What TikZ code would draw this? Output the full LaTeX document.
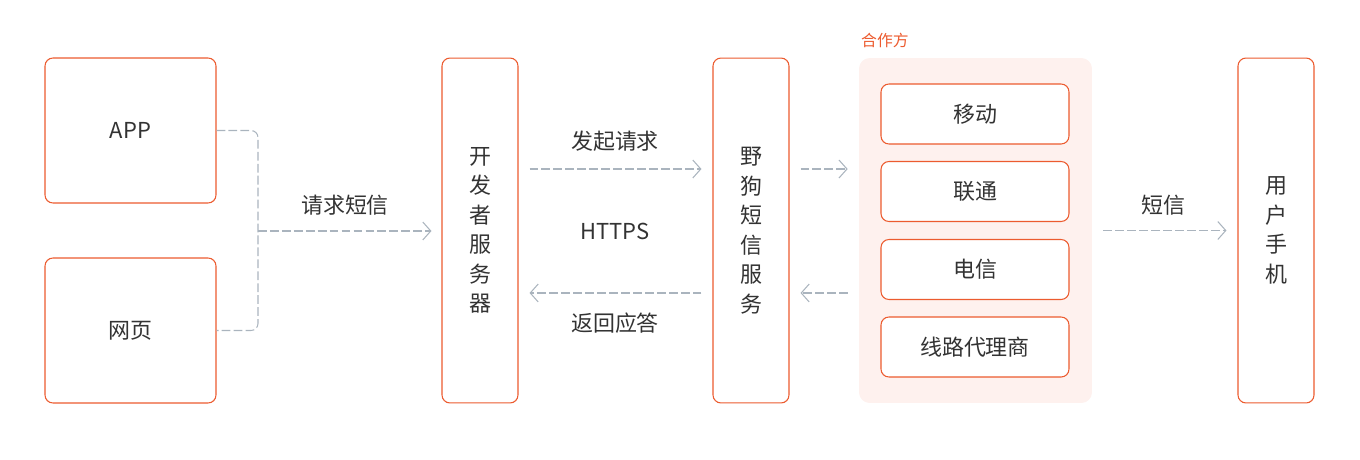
\documentclass[tikz,border=0pt]{standalone}
\usepackage{fontspec}
\setmainfont{Noto Sans CJK SC}
\usetikzlibrary{arrows.meta}
\definecolor{sorange}{HTML}{EC5B2F}
\definecolor{sgray}{HTML}{AAB4BE}
\definecolor{spink}{HTML}{FEF1EE}
\definecolor{stext}{HTML}{333333}

\tikzstyle{box}=[draw=sorange,line width=0.6pt,rounded corners=4.5pt,fill=white,text=stext,inner sep=0pt,align=center]
\tikzstyle{wide box}=[box,minimum width=3.42cm,minimum height=2.9cm]
\tikzstyle{tall box}=[box,minimum width=1.52cm,minimum height=6.9cm]
\tikzstyle{carrier}=[box,minimum width=3.76cm,minimum height=1.2cm]
\tikzstyle{edge}=[draw=sgray,line width=0.6pt,dash pattern=on 5pt off 1.8pt]
\tikzstyle{flow edge}=[edge,-{Straight Barb[length=0.16cm,width=0.36cm]},shorten <=0.22cm,shorten >=0.22cm]
\tikzstyle{tag}=[text=stext]

\begin{document}
\begin{tikzpicture}[x=0.02cm,y=-0.02cm,font=\fontsize{12.5}{16.8}\selectfont]
	\useasboundingbox (0,0) rectangle (1360,460);
			% partner area first, so the boxes sit on it
			\node[fill=spink,rounded corners=6pt,minimum width=4.66cm,minimum height=6.9cm] (partner) at (975.5,230.5) {};
			\node[anchor=west,text=sorange,font=\fontsize{9}{11}\selectfont] (ptitle) at (855,40) {合作方};
			\node[wide box] (app) at (130.5,130.5) {APP};
			\node[wide box] (web) at (130.5,330.5) {网页};
			\node[tall box] (dev) at (480,230.5) {开\\发\\者\\服\\务\\器};
			\node[tall box] (dog) at (751,230.5) {野\\狗\\短\\信\\服\\务};
			\node[tall box] (phone) at (1276,230.5) {用\\户\\手\\机};
			\foreach \name/\y/\txt in {yd/114/移动, lt/191.5/联通, dx/269.5/电信, dl/347/线路代理商}
			\node[carrier] (\name) at (975,\y) {\txt};
			% texts on the connectors
			\node[tag] (t1) at (345,205) {请求短信};
			\node[tag] (t2) at (615,141) {发起请求};
			\node[tag] (t3) at (615,231) {HTTPS};
			\node[tag] (t4) at (615,323) {返回应答};
			\node[tag] (t5) at (1163,205) {短信};
	   		 % Connect the boxes
			\coordinate (br) at (258,231);
			\path[edge,rounded corners=4pt] (app.east) -| (br) |- (web.east);
			\path[flow edge,shorten <=0pt,shorten >=0.2cm] (br) -- (br-|dev.west);
			\foreach \source/\dest/\dy/\from/\to in {dev/dog/1.23cm/east/west, dog/partner/1.23cm/east/west, dog/dev/-1.25cm/west/east, partner/dog/-1.25cm/west/east}
			 \path[flow edge] ([yshift=\dy]\source.\from) -- ([yshift=\dy]\dest.\to);
			\path[flow edge] (partner.east) -- (phone.west);
		\end{tikzpicture}
\end{document}
